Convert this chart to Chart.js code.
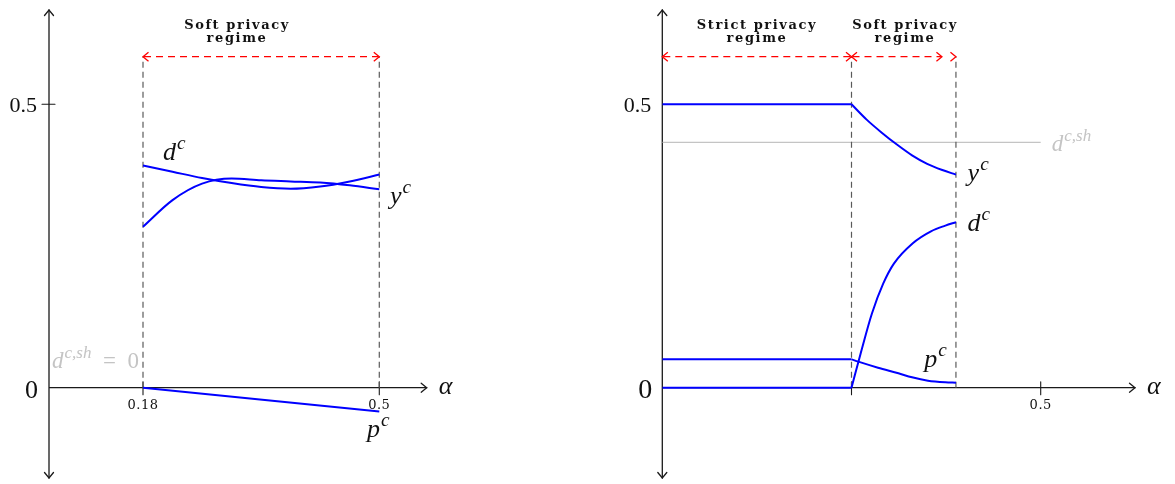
<!DOCTYPE html>
<html>
<head>
<meta charset="utf-8">
<script src="https://cdn.jsdelivr.net/npm/chart.js@4.4.1/dist/chart.umd.min.js"></script>
<style>
  body { margin: 0; background: #fff; }
  #wrap { position: relative; width: 1175px; height: 484px; }
  canvas { position: absolute; top: 0; }
  #left { left: 0; }
  #right { left: 587px; }
</style>
</head>
<body>
<div id="wrap">
  <canvas id="left" width="587" height="484"></canvas>
  <canvas id="right" width="588" height="484"></canvas>
</div>
<script>
// ---- left panel data (soft privacy regime only) ----
const leftAlpha = [0.18, 0.22, 0.26, 0.30, 0.34, 0.38, 0.42, 0.46, 0.5];
const leftD = [0.392, 0.381, 0.370, 0.361, 0.354, 0.351, 0.355, 0.364, 0.376];
const leftY = [0.284, 0.331, 0.360, 0.369, 0.366, 0.364, 0.362, 0.357, 0.350];
const leftPAlpha = [0.18, 0.5];
const leftP = [0, -0.042];
const leftBounds = [0.18, 0.5];
const leftXTicks = [0.18, 0.5];
const leftXTickLabels = ["0.18", "0.5"];

// ---- right panel data ----
const rightBounds = [0.25, 0.388];
const strictAlpha = [0, 0.25];
const strictY = [0.5, 0.5];
const strictD = [0, 0];
const strictP = [0.05, 0.05];
const softYAlpha = [0.25, 0.27, 0.29, 0.31, 0.33, 0.35, 0.37, 0.388];
const softY = [0.5, 0.473, 0.450, 0.429, 0.410, 0.395, 0.384, 0.376];
const softDAlpha = [0.25, 0.262, 0.277, 0.292, 0.306, 0.331, 0.355, 0.374, 0.388];
const softD = [0, 0.06, 0.131, 0.184, 0.219, 0.255, 0.276, 0.286, 0.292];
const softPAlpha = [0.25, 0.259, 0.285, 0.312, 0.33, 0.351, 0.374, 0.388];
const softP = [0.05, 0.046, 0.0353, 0.0254, 0.0183, 0.0124, 0.0095, 0.0088];
const dShareAlpha = [0, 0.5];
const dShare = 0.433;
const rightXTicks = [0.25, 0.5];
const rightXTickLabels = ["", "0.5"];

const arrowLevel = 0.584;
const yMin = -0.1593, yMax = 0.6664;

const BLUE = "#0000ff";
const AXIS = "#1a1a1a";
const GREY = "#c4c4c4";
const SERIF = '"Liberation Serif", serif';

function toPts(xs, ys) {
    return xs.map((x, i) => ({ x: x, y: ys[i] }));
}

function curve(xs, ys, smooth) {
    return {
        data: toPts(xs, ys),
        borderColor: BLUE,
        borderWidth: 2,
        pointRadius: 0,
        showLine: true,
        tension: 0,
        cubicInterpolationMode: smooth ? "monotone" : "default",
    };
}

function boundary(a) {
    return {
        data: [{ x: a, y: 0 }, { x: a, y: arrowLevel }],
        borderColor: "#5a5a5a",
        borderWidth: 1.2,
        borderDash: [6, 4],
        pointRadius: 0,
        showLine: true,
    };
}

function head(ctx, x, y, dx, dy) {
    // open chevron like tikz "->"
    const l = 5.5, w = 4.5;
    ctx.beginPath();
    ctx.moveTo(x - dx * l - dy * w, y - dy * l + dx * w);
    ctx.lineTo(x, y);
    ctx.lineTo(x - dx * l + dy * w, y - dy * l - dx * w);
    ctx.stroke();
}

function math(ctx, x, y, base, sup, size, color, tail) {
    ctx.fillStyle = color;
    ctx.textAlign = "left";
    ctx.font = `italic ${size}px ${SERIF}`;
    ctx.fillText(base, x, y);
    let w = ctx.measureText(base).width + 1;
    const s = size * 0.74;
    ctx.font = `italic ${s}px ${SERIF}`;
    ctx.fillText(sup, x + w, y - size * 0.42);
    w += ctx.measureText(sup).width;
    if (tail) {
        ctx.font = `${size}px ${SERIF}`;
        ctx.fillText(tail, x + w, y);
    }
}

function title(ctx, cx, lines) {
    ctx.fillStyle = "#111";
    ctx.textAlign = "center";
    ctx.font = 'bold 13px "DejaVu Serif", serif';
    ctx.letterSpacing = "1.6px";
    ctx.fillText(lines[0], cx, 29);
    ctx.fillText(lines[1], cx, 42);
    ctx.letterSpacing = "0px";
}

function makeOverlay(cfg) {
    return {
        id: "overlay",
        beforeDatasetsDraw(chart) {
            const ctx = chart.ctx;
            const a = chart.chartArea;
            const xs = chart.scales.x, ys = chart.scales.y;
            const y0 = ys.getPixelForValue(0);
            ctx.save();
            ctx.strokeStyle = AXIS;
            ctx.lineWidth = 1.3;
            ctx.lineCap = "round";
            ctx.beginPath();
            ctx.moveTo(a.left, a.top);
            ctx.lineTo(a.left, a.bottom);
            ctx.moveTo(a.left, y0);
            ctx.lineTo(a.right, y0);
            ctx.stroke();
            head(ctx, a.left, a.top, 0, -1);
            head(ctx, a.left, a.bottom, 0, 1);
            head(ctx, a.right, y0, 1, 0);
            ctx.lineWidth = 1.1;
            ctx.beginPath();
            cfg.xTicks.forEach((v) => {
                const px = xs.getPixelForValue(v);
                ctx.moveTo(px, y0 - 6);
                ctx.lineTo(px, y0 + 7);
            });
            if (cfg.yTickMark) {
                const py = ys.getPixelForValue(0.5);
                ctx.moveTo(a.left - 7, py);
                ctx.lineTo(a.left + 6, py);
            }
            ctx.stroke();
            ctx.restore();
        },
        afterDatasetsDraw(chart) {
            const ctx = chart.ctx;
            const a = chart.chartArea;
            const xs = chart.scales.x, ys = chart.scales.y;
            const y0 = ys.getPixelForValue(0);
            ctx.save();

            // red regime arrows
            const ay = ys.getPixelForValue(arrowLevel);
            ctx.strokeStyle = "#ff0000";
            ctx.lineWidth = 1.3;
            cfg.arrows.forEach((ar) => {
                const p1 = xs.getPixelForValue(ar[0]);
                const p2 = xs.getPixelForValue(ar[1]);
                ctx.setLineDash([7, 5]);
                ctx.beginPath();
                ctx.moveTo(p1 + 1, ay);
                ctx.lineTo(p2 - 1, ay);
                ctx.stroke();
                ctx.setLineDash([]);
                head(ctx, p1, ay, -1, 0);
                head(ctx, p2, ay, 1, 0);
                if (ar[2]) head(ctx, xs.getPixelForValue(ar[2]), ay, 1, 0);
            });

            // tick labels
            ctx.fillStyle = "#111";
            ctx.textAlign = "center";
            ctx.font = `13px "DejaVu Serif", serif`;
            ctx.letterSpacing = "0.5px";
            cfg.xTicks.forEach((v, i) => {
                ctx.fillText(cfg.xTickLabels[i], xs.getPixelForValue(v), y0 + 21);
            });
            ctx.letterSpacing = "0px";
            ctx.textAlign = "right";
            ctx.font = `22px ${SERIF}`;
            ctx.fillText("0.5", a.left - cfg.yLabelGap, ys.getPixelForValue(0.5) + 7.5);
            ctx.font = `${cfg.zeroSize}px ${SERIF}`;
            ctx.fillText("0", a.left - cfg.yLabelGap + 1, y0 + 10.5);

            math(ctx, a.right + 12, y0 + 6, "\u03b1", "", 26, "#111");

            cfg.titles.forEach((t) => title(ctx, t.cx, t.lines));
            cfg.labels.forEach((l) => math(ctx, l.x, l.y, l.base, l.sup, l.size, l.color, l.tail));
            ctx.restore();
        },
    };
}

function makeChart(id, datasets, xMin, xMax, pad, cfg) {
    return new Chart(document.getElementById(id), {
        type: "scatter",
        data: { datasets: datasets },
        options: {
            responsive: false,
            animation: false,
            layout: { padding: pad },
            plugins: { legend: { display: false }, tooltip: { enabled: false } },
            scales: {
                x: { type: "linear", display: false, min: xMin, max: xMax },
                y: { type: "linear", display: false, min: yMin, max: yMax },
            },
        },
        plugins: [makeOverlay(cfg)],
    });
}

// Left chart
const leftChart = makeChart(
    "left",
    [
        curve(leftAlpha, leftD, true),
        curve(leftAlpha, leftY, true),
        curve(leftPAlpha, leftP, false),
        boundary(leftBounds[0]),
        boundary(leftBounds[1]),
    ],
    0.0527, 0.5642,
    { left: 49, right: 160.3, top: 10, bottom: 6 },
    {
        xTicks: leftXTicks,
        xTickLabels: leftXTickLabels,
        yTickMark: true,
        yLabelGap: 12,
        zeroSize: 26,
        arrows: [[leftBounds[0], leftBounds[1]]],
        titles: [{ cx: 237, lines: ["Soft privacy", "regime"] }],
        labels: [
            { x: 163, y: 160, base: "d", sup: "c", size: 26, color: "#111" },
            { x: 390, y: 204, base: "y", sup: "c", size: 26, color: "#111" },
            { x: 367, y: 437, base: "p", sup: "c", size: 26, color: "#111" },
            { x: 52, y: 368, base: "d", sup: "c,sh", size: 23, color: GREY, tail: "  =  0" },
        ],
    }
);

// Right chart
const rightChart = makeChart(
    "right",
    [
        curve(strictAlpha, strictY, false),
        curve(strictAlpha, strictD, false),
        curve(strictAlpha, strictP, false),
        curve(softYAlpha, softY, true),
        curve(softDAlpha, softD, true),
        curve(softPAlpha, softP, true),
        boundary(rightBounds[0]),
        boundary(rightBounds[1]),
        {
            data: toPts(dShareAlpha, [dShare, dShare]),
            borderColor: GREY,
            borderWidth: 1.2,
            pointRadius: 0,
            showLine: true,
        },
    ],
    0, 0.6246,
    { left: 75.3, right: 40, top: 10, bottom: 6 },
    {
        xTicks: rightXTicks,
        xTickLabels: rightXTickLabels,
        yTickMark: false,
        yLabelGap: 11,
        zeroSize: 28,
        arrows: [[0, rightBounds[0]], [rightBounds[0], 0.3695, rightBounds[1]]],
        titles: [
            { cx: 170, lines: ["Strict privacy", "regime"] },
            { cx: 318, lines: ["Soft privacy", "regime"] },
        ],
        labels: [
            { x: 380.6, y: 181, base: "y", sup: "c", size: 26, color: "#111" },
            { x: 380.6, y: 231, base: "d", sup: "c", size: 26, color: "#111" },
            { x: 337.3, y: 366.7, base: "p", sup: "c", size: 26, color: "#111" },
            { x: 464.7, y: 151, base: "d", sup: "c,sh", size: 23, color: GREY },
        ],
    }
);
</script>
</body>
</html>
